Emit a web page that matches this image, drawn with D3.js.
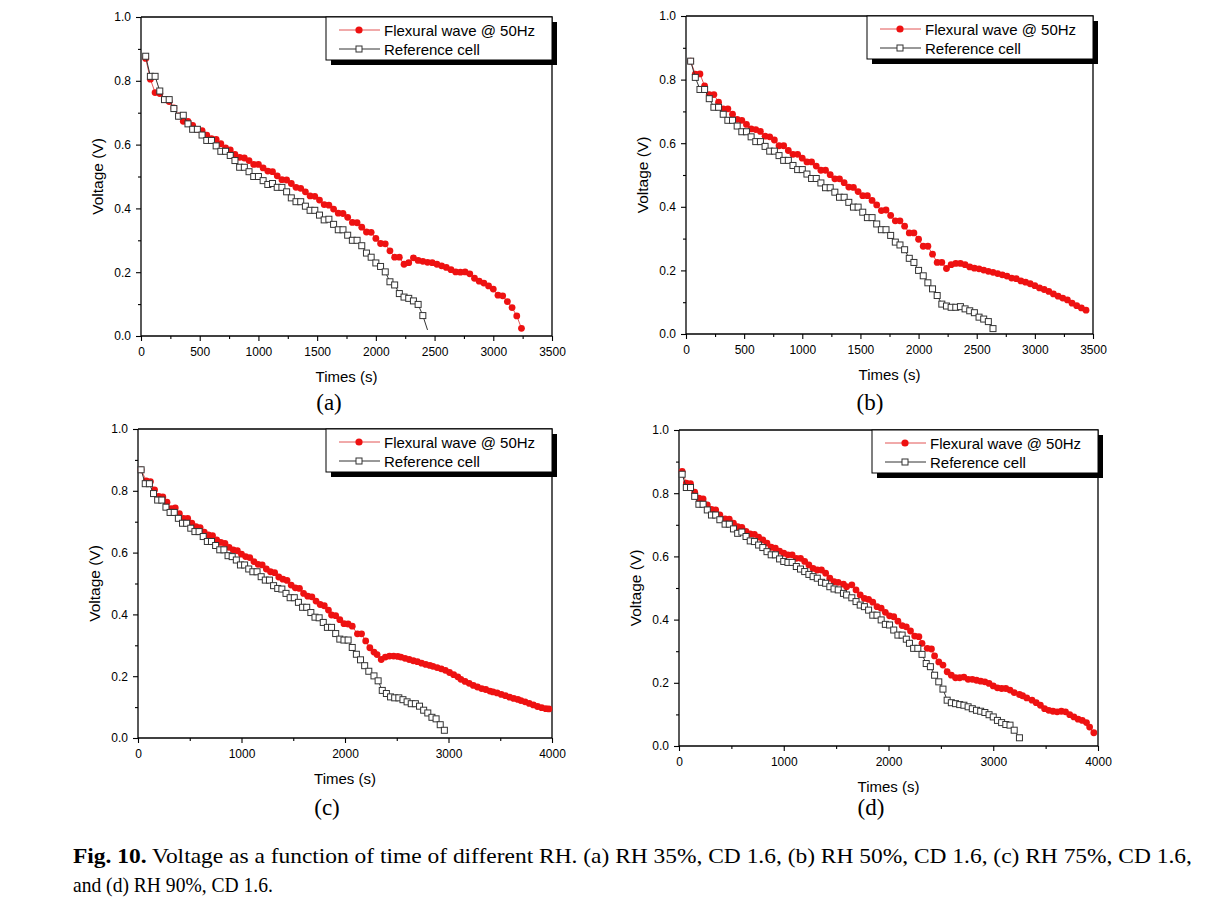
<!DOCTYPE html>
<html><head><meta charset="utf-8">
<script src="https://cdn.jsdelivr.net/npm/d3@7"></script>
<style>html,body{margin:0;padding:0;background:#fff;}svg{display:block;}</style>
</head><body>
<svg id="chart" width="1209" height="906"></svg>
<script>
// ---------- data ----------
const legendLabels = ["Flexural wave @ 50Hz", "Reference cell"];
const panelLabels = ["(a)", "(b)", "(c)", "(d)"];
const xTitle = "Times (s)";
const yTitle = "Voltage (V)";
const xMaxA = 3500, xMaxB = 3500, xMaxC = 4000, xMaxD = 4000;
const yTicks = [0, 0.2, 0.4, 0.6, 0.8, 1.0];
const captionBold = "Fig. 10.";
const captionLine1 = " Voltage as a function of time of different RH. (a) RH 35%, CD 1.6, (b) RH 50%, CD 1.6, (c) RH 75%, CD 1.6,";
const captionLine2 = "and (d) RH 90%, CD 1.6.";

const flexA = [[40,0.87],[80,0.805],[120,0.763],[160,0.76],[200,0.741],[240,0.735],[280,0.715],[320,0.69],[360,0.673],[400,0.673],[440,0.66],[480,0.648],[520,0.644],[560,0.63],[600,0.619],[640,0.616],[680,0.603],[720,0.59],[760,0.583],[800,0.569],[840,0.56],[880,0.558],[920,0.55],[960,0.538],[1000,0.538],[1040,0.527],[1080,0.517],[1120,0.515],[1160,0.502],[1200,0.49],[1240,0.489],[1280,0.478],[1320,0.466],[1360,0.463],[1400,0.452],[1440,0.439],[1480,0.438],[1520,0.426],[1560,0.412],[1600,0.41],[1640,0.398],[1680,0.385],[1720,0.384],[1760,0.372],[1800,0.356],[1840,0.355],[1880,0.341],[1920,0.326],[1960,0.325],[2000,0.306],[2040,0.29],[2080,0.289],[2120,0.267],[2160,0.247],[2200,0.247],[2240,0.225],[2280,0.23],[2320,0.245],[2360,0.237],[2400,0.234],[2440,0.231],[2480,0.23],[2520,0.225],[2560,0.22],[2600,0.215],[2640,0.208],[2680,0.201],[2720,0.2],[2760,0.201],[2800,0.195],[2840,0.181],[2880,0.172],[2920,0.166],[2960,0.157],[3000,0.147],[3040,0.128],[3080,0.126],[3120,0.108],[3160,0.089],[3200,0.063],[3240,0.024]];
const refA = [[40,0.877],[80,0.814],[120,0.814],[160,0.768],[200,0.741],[240,0.741],[280,0.713],[320,0.689],[360,0.692],[400,0.665],[440,0.648],[480,0.648],[520,0.63],[560,0.613],[600,0.613],[640,0.596],[680,0.579],[720,0.579],[760,0.566],[800,0.55],[840,0.529],[880,0.529],[920,0.515],[960,0.5],[1000,0.5],[1040,0.487],[1080,0.475],[1120,0.478],[1160,0.466],[1200,0.466],[1240,0.452],[1280,0.433],[1320,0.421],[1360,0.421],[1400,0.407],[1440,0.394],[1480,0.394],[1520,0.379],[1560,0.364],[1600,0.366],[1640,0.35],[1680,0.333],[1720,0.333],[1760,0.316],[1800,0.3],[1840,0.3],[1880,0.283],[1920,0.26],[1960,0.247],[2000,0.229],[2040,0.218],[2080,0.201],[2120,0.17],[2160,0.16],[2200,0.133],[2240,0.122],[2280,0.118],[2320,0.11],[2360,0.099],[2400,0.064],[2440,0.019]];
const flexB = [[40,0.858],[80,0.817],[120,0.818],[160,0.78],[200,0.753],[240,0.753],[280,0.729],[320,0.708],[360,0.708],[400,0.691],[440,0.675],[480,0.672],[520,0.659],[560,0.645],[600,0.643],[640,0.637],[680,0.622],[720,0.62],[760,0.61],[800,0.592],[840,0.592],[880,0.577],[920,0.565],[960,0.565],[1000,0.553],[1040,0.541],[1080,0.541],[1120,0.528],[1160,0.515],[1200,0.515],[1240,0.501],[1280,0.488],[1320,0.488],[1360,0.476],[1400,0.462],[1440,0.461],[1480,0.448],[1520,0.435],[1560,0.435],[1600,0.42],[1640,0.406],[1680,0.388],[1720,0.39],[1760,0.373],[1800,0.356],[1840,0.356],[1880,0.339],[1920,0.318],[1960,0.318],[2000,0.298],[2040,0.276],[2080,0.276],[2120,0.251],[2160,0.225],[2200,0.225],[2240,0.206],[2280,0.218],[2320,0.222],[2360,0.222],[2400,0.218],[2440,0.211],[2480,0.207],[2520,0.205],[2560,0.201],[2600,0.197],[2640,0.194],[2680,0.19],[2720,0.186],[2760,0.182],[2800,0.176],[2840,0.174],[2880,0.167],[2920,0.163],[2960,0.158],[3000,0.152],[3040,0.145],[3080,0.14],[3120,0.134],[3160,0.126],[3200,0.119],[3240,0.113],[3280,0.107],[3320,0.097],[3360,0.089],[3400,0.082],[3440,0.075]];
const refB = [[40,0.858],[80,0.807],[120,0.769],[160,0.769],[200,0.74],[240,0.713],[280,0.713],[320,0.691],[360,0.672],[400,0.672],[440,0.654],[480,0.636],[520,0.636],[560,0.62],[600,0.605],[640,0.605],[680,0.59],[720,0.575],[760,0.575],[800,0.561],[840,0.546],[880,0.546],[920,0.53],[960,0.517],[1000,0.517],[1040,0.503],[1080,0.489],[1120,0.489],[1160,0.475],[1200,0.46],[1240,0.46],[1280,0.446],[1320,0.43],[1360,0.43],[1400,0.414],[1440,0.399],[1480,0.399],[1520,0.383],[1560,0.366],[1600,0.366],[1640,0.346],[1680,0.328],[1720,0.328],[1760,0.31],[1800,0.289],[1840,0.28],[1880,0.265],[1920,0.238],[1960,0.225],[2000,0.2],[2040,0.183],[2080,0.161],[2120,0.142],[2160,0.121],[2200,0.094],[2240,0.088],[2280,0.084],[2320,0.084],[2360,0.086],[2400,0.079],[2440,0.073],[2480,0.067],[2520,0.053],[2560,0.047],[2600,0.039],[2640,0.017]];
const flexC = [[30,0.868],[80,0.832],[120,0.83],[160,0.803],[200,0.782],[240,0.78],[280,0.763],[320,0.742],[360,0.745],[400,0.726],[440,0.711],[480,0.711],[520,0.695],[560,0.684],[600,0.681],[640,0.666],[680,0.657],[720,0.655],[760,0.641],[800,0.633],[840,0.63],[880,0.617],[920,0.609],[960,0.606],[1000,0.595],[1040,0.587],[1080,0.584],[1120,0.571],[1160,0.562],[1200,0.56],[1240,0.547],[1280,0.538],[1320,0.535],[1360,0.521],[1400,0.514],[1440,0.51],[1480,0.495],[1520,0.486],[1560,0.484],[1600,0.468],[1640,0.459],[1680,0.457],[1720,0.443],[1760,0.432],[1800,0.428],[1840,0.414],[1870,0.398],[1910,0.396],[1950,0.383],[1990,0.37],[2030,0.369],[2070,0.362],[2120,0.337],[2160,0.337],[2200,0.314],[2240,0.292],[2280,0.278],[2310,0.27],[2350,0.254],[2390,0.262],[2430,0.265],[2470,0.265],[2510,0.264],[2540,0.262],[2580,0.258],[2620,0.254],[2660,0.25],[2700,0.247],[2740,0.242],[2780,0.238],[2820,0.235],[2850,0.232],[2890,0.228],[2930,0.224],[2970,0.219],[3010,0.212],[3050,0.205],[3090,0.198],[3120,0.19],[3160,0.183],[3200,0.177],[3240,0.17],[3280,0.165],[3320,0.16],[3360,0.157],[3400,0.152],[3430,0.149],[3470,0.146],[3510,0.141],[3550,0.137],[3590,0.132],[3630,0.128],[3670,0.125],[3700,0.121],[3740,0.117],[3780,0.112],[3820,0.107],[3860,0.102],[3900,0.098],[3940,0.095],[3970,0.094]];
const refC = [[30,0.868],[70,0.823],[110,0.823],[150,0.791],[190,0.77],[230,0.77],[270,0.747],[310,0.73],[350,0.73],[390,0.711],[430,0.695],[470,0.695],[510,0.679],[550,0.668],[590,0.668],[630,0.652],[670,0.636],[710,0.636],[750,0.623],[790,0.609],[830,0.609],[870,0.59],[910,0.587],[950,0.576],[990,0.56],[1030,0.56],[1070,0.547],[1110,0.538],[1150,0.538],[1190,0.522],[1230,0.511],[1270,0.511],[1310,0.493],[1350,0.484],[1390,0.482],[1430,0.468],[1470,0.454],[1510,0.454],[1550,0.439],[1590,0.423],[1630,0.423],[1670,0.406],[1710,0.391],[1750,0.389],[1790,0.374],[1830,0.358],[1870,0.358],[1910,0.338],[1950,0.32],[1990,0.317],[2030,0.317],[2070,0.293],[2110,0.271],[2150,0.253],[2190,0.234],[2230,0.216],[2280,0.201],[2320,0.185],[2360,0.154],[2400,0.144],[2440,0.133],[2480,0.13],[2520,0.13],[2560,0.124],[2600,0.117],[2640,0.111],[2680,0.111],[2720,0.103],[2760,0.09],[2800,0.081],[2840,0.067],[2880,0.062],[2920,0.043],[2960,0.025]];
const flexD = [[30,0.869],[70,0.832],[110,0.83],[150,0.803],[190,0.784],[230,0.782],[270,0.763],[310,0.749],[350,0.747],[390,0.731],[440,0.719],[480,0.718],[520,0.705],[560,0.694],[600,0.692],[640,0.679],[680,0.671],[720,0.67],[760,0.661],[800,0.652],[840,0.642],[880,0.629],[920,0.626],[960,0.617],[1000,0.61],[1040,0.605],[1080,0.605],[1120,0.594],[1160,0.594],[1200,0.584],[1240,0.573],[1280,0.562],[1320,0.557],[1360,0.557],[1400,0.547],[1440,0.531],[1480,0.52],[1520,0.518],[1570,0.512],[1600,0.504],[1650,0.51],[1690,0.494],[1730,0.478],[1770,0.467],[1810,0.464],[1850,0.455],[1890,0.441],[1930,0.436],[1970,0.423],[2010,0.412],[2050,0.409],[2090,0.395],[2130,0.381],[2170,0.377],[2210,0.364],[2250,0.348],[2290,0.346],[2320,0.325],[2370,0.309],[2410,0.307],[2440,0.285],[2480,0.266],[2520,0.256],[2560,0.235],[2600,0.224],[2640,0.216],[2680,0.216],[2720,0.218],[2760,0.211],[2800,0.211],[2840,0.208],[2880,0.205],[2920,0.203],[2960,0.198],[3000,0.19],[3040,0.184],[3080,0.182],[3120,0.182],[3160,0.177],[3200,0.169],[3250,0.163],[3280,0.159],[3320,0.152],[3370,0.145],[3410,0.137],[3450,0.129],[3490,0.118],[3530,0.113],[3570,0.11],[3610,0.108],[3650,0.11],[3690,0.108],[3730,0.099],[3770,0.092],[3810,0.085],[3850,0.081],[3890,0.074],[3920,0.06],[3960,0.042]];
const refD = [[30,0.86],[70,0.818],[110,0.818],[150,0.79],[190,0.765],[230,0.765],[270,0.747],[310,0.731],[350,0.731],[390,0.716],[440,0.702],[480,0.702],[520,0.687],[560,0.673],[600,0.677],[640,0.663],[680,0.649],[720,0.647],[760,0.636],[800,0.628],[840,0.615],[880,0.605],[920,0.605],[960,0.592],[1000,0.584],[1040,0.581],[1080,0.581],[1120,0.568],[1160,0.56],[1200,0.552],[1240,0.543],[1280,0.536],[1320,0.531],[1360,0.518],[1400,0.515],[1440,0.504],[1480,0.497],[1520,0.494],[1570,0.483],[1600,0.478],[1650,0.469],[1690,0.457],[1730,0.446],[1770,0.441],[1810,0.43],[1850,0.414],[1890,0.414],[1930,0.399],[1970,0.385],[2010,0.383],[2050,0.367],[2090,0.351],[2130,0.351],[2170,0.338],[2200,0.325],[2240,0.309],[2280,0.309],[2320,0.29],[2360,0.261],[2400,0.251],[2440,0.224],[2480,0.203],[2520,0.18],[2560,0.145],[2600,0.137],[2640,0.134],[2680,0.131],[2720,0.129],[2760,0.124],[2800,0.118],[2840,0.113],[2880,0.11],[2920,0.106],[2960,0.099],[3000,0.092],[3040,0.081],[3080,0.074],[3120,0.068],[3160,0.066],[3200,0.05],[3250,0.026]];

// ---------- layout ----------
const panels = [
  {flex: flexA, ref: refA, xMax: xMaxA, major: 500, minor: 250, box: [141, 17, 552, 336], label: panelLabels[0], lx: 329, ly: 410, refTailLineOnly: true},
  {flex: flexB, ref: refB, xMax: xMaxB, major: 500, minor: 250, box: [686, 16, 1093, 334], label: panelLabels[1], lx: 870, ly: 410},
  {flex: flexC, ref: refC, xMax: xMaxC, major: 1000, minor: 500, box: [138, 429, 552, 738], label: panelLabels[2], lx: 327, ly: 815},
  {flex: flexD, ref: refD, xMax: xMaxD, major: 1000, minor: 500, box: [679, 430, 1098, 746], label: panelLabels[3], lx: 871, ly: 815}
];

const RED = "#ee1111", REDLINE = "#e25555", BLK = "#333";
const svg = d3.select("#chart");
svg.append("rect").attr("width", 1209).attr("height", 906).attr("fill", "#fff");

panels.forEach(p => {
  const [L, T, R, B] = p.box;
  const x = d3.scaleLinear().domain([0, p.xMax]).range([L, R]);
  const y = d3.scaleLinear().domain([0, 1]).range([B, T]);
  const g = svg.append("g");

  g.append("path").attr("d", `M${L},${T}H${R}V${B}`).attr("fill", "none").attr("stroke", "#000").attr("stroke-width", 1.3);

  const xMinor = d3.range(0, p.xMax + 1, p.minor).filter(v => v % p.major !== 0);
  const yMinor = [0.1, 0.3, 0.5, 0.7, 0.9];
  const xAxis = d3.axisBottom(x).tickValues(d3.range(0, p.xMax + 1, p.major)).tickFormat(d3.format("d")).tickSize(5).tickPadding(6);
  const yAxis = d3.axisLeft(y).tickValues(yTicks).tickFormat(d3.format(".1f")).tickSize(5).tickPadding(5);
  const gx = g.append("g").attr("transform", `translate(0,${B})`).call(xAxis);
  const gy = g.append("g").attr("transform", `translate(${L},0)`).call(yAxis);
  g.append("g").attr("transform", `translate(0,${B})`)
    .call(d3.axisBottom(x).tickValues(xMinor).tickFormat("").tickSize(3).tickSizeOuter(0))
    .select(".domain").remove();
  g.append("g").attr("transform", `translate(${L},0)`)
    .call(d3.axisLeft(y).tickValues(yMinor).tickFormat("").tickSize(3).tickSizeOuter(0))
    .select(".domain").remove();
  gx.select(".domain").attr("stroke-width", 1.3).attr("d", `M${L},0H${R}`);
  gy.select(".domain").attr("stroke-width", 1.3).attr("d", `M0,${T}V${B}`);
  g.selectAll(".tick line").attr("stroke", "#000").attr("stroke-width", 1.1);
  g.selectAll(".tick text").attr("font-family", "Liberation Sans, Arial, sans-serif").attr("font-size", 12).attr("fill", "#000");

  g.append("text").attr("x", (L + R) / 2).attr("y", B + 46).attr("text-anchor", "middle")
    .attr("font-family", "Liberation Sans, Arial, sans-serif").attr("font-size", 15).text(xTitle);
  g.append("text").attr("transform", `translate(${L - 38},${(T + B) / 2}) rotate(-90)`).attr("text-anchor", "middle")
    .attr("font-family", "Liberation Sans, Arial, sans-serif").attr("font-size", 15.5).text(yTitle);

  const line = d3.line().x(d => x(d[0])).y(d => y(d[1]));
  g.append("path").datum(p.flex).attr("d", line).attr("fill", "none").attr("stroke", REDLINE).attr("stroke-width", 1);
  g.append("g").selectAll("circle").data(p.flex).join("circle")
    .attr("cx", d => x(d[0])).attr("cy", d => y(d[1])).attr("r", 3.4).attr("fill", RED);
  g.append("path").datum(p.ref).attr("d", line).attr("fill", "none").attr("stroke", BLK).attr("stroke-width", 1);
  const refMarks = p.refTailLineOnly ? p.ref.slice(0, -1) : p.ref;
  g.append("g").selectAll("rect").data(refMarks).join("rect")
    .attr("x", d => x(d[0]) - 3).attr("y", d => y(d[1]) - 3).attr("width", 6).attr("height", 6)
    .attr("fill", "#fff").attr("stroke", BLK).attr("stroke-width", 1);

  const lw = 226, lh = 43, lx0 = R - lw, ly0 = T;
  const lg = g.append("g");
  lg.append("rect").attr("x", lx0 + 5).attr("y", ly0 + 5).attr("width", lw).attr("height", lh).attr("fill", "#000");
  lg.append("rect").attr("x", lx0).attr("y", ly0).attr("width", lw).attr("height", lh).attr("fill", "#fff").attr("stroke", "#000").attr("stroke-width", 1);
  const rows = [ly0 + 13, ly0 + 32];
  lg.append("line").attr("x1", lx0 + 13).attr("x2", lx0 + 54).attr("y1", rows[0]).attr("y2", rows[0]).attr("stroke", REDLINE).attr("stroke-width", 1);
  lg.append("circle").attr("cx", lx0 + 33).attr("cy", rows[0]).attr("r", 3.6).attr("fill", RED);
  lg.append("line").attr("x1", lx0 + 13).attr("x2", lx0 + 54).attr("y1", rows[1]).attr("y2", rows[1]).attr("stroke", BLK).attr("stroke-width", 1);
  lg.append("rect").attr("x", lx0 + 30).attr("y", rows[1] - 3).attr("width", 6).attr("height", 6).attr("fill", "#fff").attr("stroke", BLK);
  legendLabels.forEach((t, i) => {
    lg.append("text").attr("x", lx0 + 58).attr("y", rows[i] + 5.5)
      .attr("font-family", "Liberation Sans, Arial, sans-serif").attr("font-size", 15).text(t);
  });

  svg.append("text").attr("x", p.lx).attr("y", p.ly).attr("text-anchor", "middle")
    .attr("font-family", "Liberation Serif, Times New Roman, serif").attr("font-size", 23).text(p.label);
});

function captionLine(parts, x0, yb, targetW) {
  const t = svg.append("text").attr("x", 0).attr("y", 0)
    .attr("font-family", "Liberation Serif, Times New Roman, serif").attr("font-size", 21);
  parts.forEach(([s, bold]) => t.append("tspan").attr("font-weight", bold ? "bold" : "normal").text(s));
  const w = t.node().getComputedTextLength();
  t.attr("transform", `translate(${x0},${yb}) scale(${targetW / w},1)`);
}
captionLine([[captionBold, true], [captionLine1, false]], 73, 863, 1119);
captionLine([[captionLine2, false]], 73, 892, 200);
</script>
</body></html>
